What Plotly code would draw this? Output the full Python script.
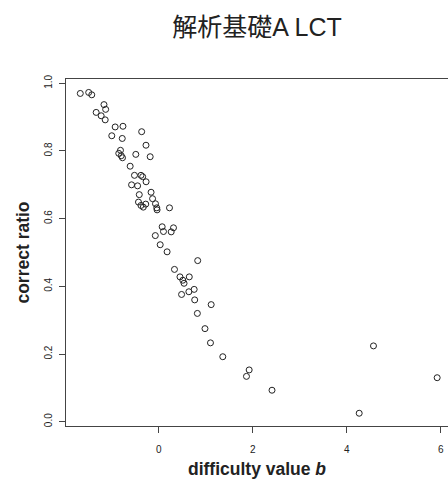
import plotly.graph_objects as go

# difficulty value b (x) and correct ratio (y)
difficulty_b = [
    -1.670, -1.491, -1.426, -1.166, -1.130, -1.332, -1.226, -1.140, -0.928, -0.762,
    -0.364, -1.000, -0.777, -0.272, -0.815, -0.851, -0.798, -0.772, -0.489, -0.183,
    -0.609, -0.517, -0.379, -0.343, -0.270, -0.579, -0.451, -0.415, -0.164, -0.132,
    -0.432, -0.379, -0.330, -0.277, -0.070, -0.043, -0.036, 0.228, 0.072, 0.100,
    0.313, 0.264, -0.074, 0.030, 0.177, 0.828, 0.334, 0.451, 0.649, 0.511,
    0.538, 0.485, 0.640, 0.753, 0.764, 1.115, 0.821, 0.983, 1.100, 1.362,
    1.923, 1.866, 2.409, 4.568, 4.264, 5.923,
]
correct_ratio = [
    0.970, 0.973, 0.966, 0.937, 0.923, 0.914, 0.904, 0.892, 0.871, 0.873,
    0.857, 0.845, 0.837, 0.817, 0.802, 0.793, 0.786, 0.780, 0.790, 0.783,
    0.755, 0.728, 0.728, 0.724, 0.709, 0.700, 0.697, 0.671, 0.678, 0.659,
    0.649, 0.639, 0.634, 0.643, 0.644, 0.632, 0.626, 0.632, 0.576, 0.562,
    0.573, 0.561, 0.550, 0.523, 0.502, 0.476, 0.450, 0.428, 0.428, 0.418,
    0.409, 0.376, 0.384, 0.391, 0.360, 0.346, 0.320, 0.275, 0.233, 0.192,
    0.153, 0.134, 0.093, 0.224, 0.025, 0.130,
]
x_ticks = [0, 2, 4, 6]
y_ticks = [0.0, 0.2, 0.4, 0.6, 0.8, 1.0]
y_tick_labels = ["0.0", "0.2", "0.4", "0.6", "0.8", "1.0"]

FONT = "Liberation Sans, Arial, Helvetica, Noto Sans CJK JP, sans-serif"
INK = "#222222"

fig = go.Figure(
    go.Scatter(
        x=difficulty_b,
        y=correct_ratio,
        mode="markers",
        marker=dict(symbol="circle-open", size=6, color=INK, line=dict(width=1, color=INK)),
        hoverinfo="x+y",
    )
)

fig.update_layout(
    width=448,
    height=479,
    margin=dict(l=66, r=0, t=79, b=53),
    paper_bgcolor="white",
    plot_bgcolor="white",
    showlegend=False,
    font=dict(family=FONT, color=INK),
    title=dict(
        text="解析基礎A LCT",
        x=0.5,
        xref="paper",
        y=1 - 27 / 479,
        yref="container",
        yanchor="middle",
        xanchor="center",
        font=dict(size=25, family=FONT, color="#222222"),
    ),
)

fig.update_xaxes(
    range=[-1.974, -1.974 + 382 / 47],
    tickmode="array",
    tickvals=x_ticks,
    ticktext=[str(v) for v in x_ticks],
    ticks="outside",
    ticklen=6,
    tickwidth=1,
    tickcolor="#444444",
    tickfont=dict(size=10, family=FONT, color=INK),
    ticklabelstandoff=8,
    showline=True,
    linecolor="#444444",
    linewidth=1,
    mirror=True,
    showgrid=False,
    zeroline=False,
    automargin=False,
    title=dict(
        text="<b>difficulty value <i>b</i></b>",
        font=dict(size=17.5, family=FONT, color=INK),
        standoff=10,
    ),
)

fig.update_yaxes(
    range=[-0.0127, 1.0127],
    tickmode="array",
    tickvals=y_ticks,
    ticktext=y_tick_labels,
    tickangle=-90,
    ticks="outside",
    ticklen=6,
    tickwidth=1,
    tickcolor="#444444",
    tickfont=dict(size=10, family=FONT, color=INK),
    ticklabelstandoff=3,
    showline=True,
    linecolor="#444444",
    linewidth=1,
    mirror=False,
    showgrid=False,
    zeroline=False,
    automargin=False,
    title=dict(
        text="<b>correct ratio</b>",
        font=dict(size=17.5, family=FONT, color=INK),
        standoff=8,
    ),
)

fig.write_html("out.html")
